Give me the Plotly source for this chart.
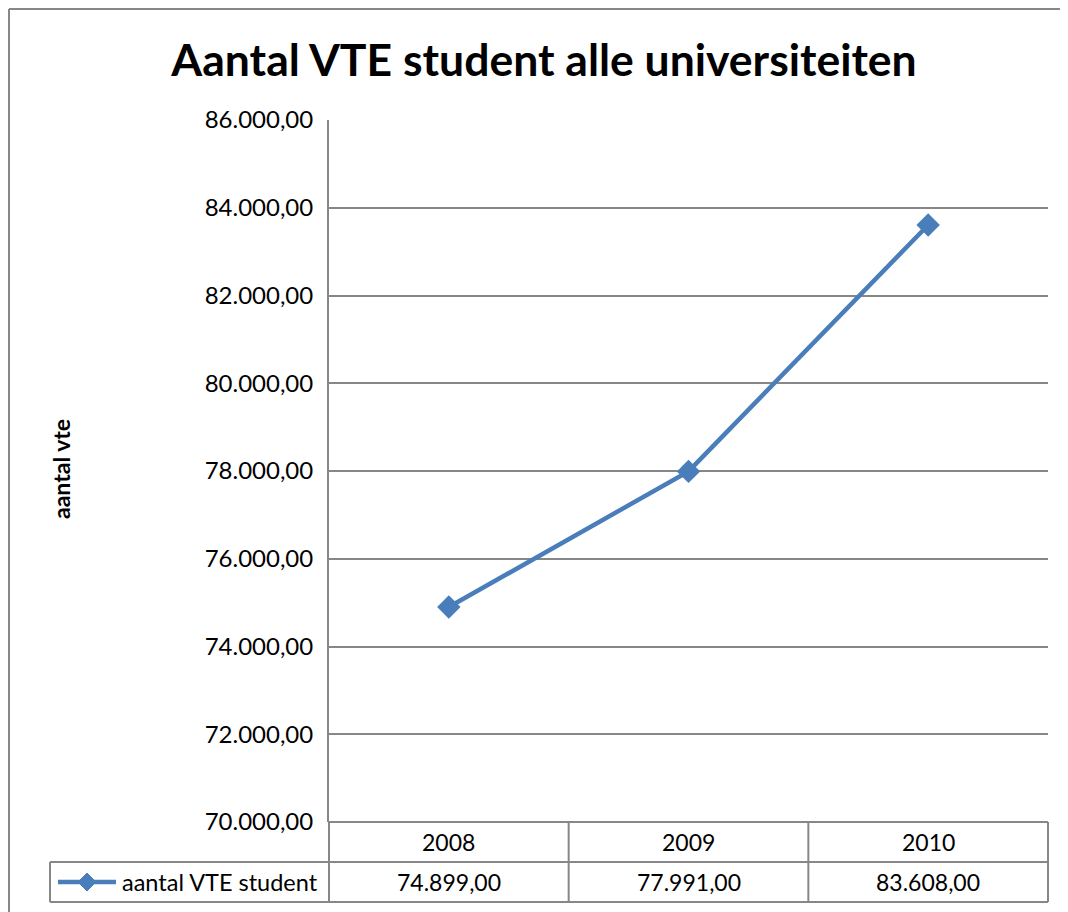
import plotly.graph_objects as go

years = [2008, 2009, 2010]
vte = [74899.00, 77991.00, 83608.00]
series_name = 'aantal VTE student'
y_ticks = list(range(70000, 86001, 2000))

# page has an 8px body margin, so figure is a bit smaller than the window
OFF = 8
W, H = 1068, 912
L, R, T, B = 329, 1048, 120, 822   # plot area in window pixels
pw, ph = R - L, B - T

def px(x):
    return (x - L) / pw

def py(y):
    return (B - y) / ph

def fmt(v):
    return f'{v:,.2f}'.replace(',', ' ').replace('.', ',').replace(' ', '.')

grey = '#878787'
blue = '#4A7EBB'
font = 'Lato'

fig = go.Figure()
fig.add_trace(go.Scatter(x=years, y=vte, mode='lines+markers', name=series_name,
                         line=dict(color=blue, width=4.5),
                         marker=dict(symbol='diamond', size=18, color=blue)))

line = dict(color=grey, width=2)
shapes = []
# outer chart border (only top and left are inside the picture)
shapes.append(dict(type='line', xref='paper', yref='paper',
                   x0=px(OFF + 1), x1=px(W), y0=py(OFF + 1), y1=py(OFF + 1), line=line))
shapes.append(dict(type='line', xref='paper', yref='paper',
                   x0=px(OFF + 1), x1=px(OFF + 1), y0=py(OFF + 1), y1=py(H), line=line))
# data table
row1, row2, row3 = B, B + 40, B + 80
cols = [L, L + pw / 3, L + 2 * pw / 3, R]
for yy, x0 in [(row1, L), (row2, 50), (row3, 50)]:
    shapes.append(dict(type='line', xref='paper', yref='paper',
                       x0=px(x0), x1=px(R), y0=py(yy), y1=py(yy), line=line))
for c in cols:
    shapes.append(dict(type='line', xref='paper', yref='paper',
                       x0=px(c), x1=px(c), y0=py(row1), y1=py(row3), line=line))
shapes.append(dict(type='line', xref='paper', yref='paper',
                   x0=px(50), x1=px(50), y0=py(row2), y1=py(row3), line=line))
# legend key in the table
key_y = py(row2 + 20)
shapes.append(dict(type='line', xref='paper', yref='paper',
                   x0=px(58), x1=px(116), y0=key_y, y1=key_y,
                   line=dict(color=blue, width=4.5)))
shapes.append(dict(type='path', xref='paper', yref='paper',
                   xsizemode='pixel', ysizemode='pixel', xanchor=px(87), yanchor=key_y,
                   path='M -9 0 L 0 9 L 9 0 L 0 -9 Z',
                   fillcolor=blue, line=dict(color=blue, width=1)))

annotations = []
txt = dict(showarrow=False, xanchor='center', yanchor='middle')
for yr, v in zip(years, vte):
    annotations.append(dict(x=yr, xref='x', y=py(row1 + 20), yref='paper', text=str(yr),
                            font=dict(size=23, color='black', family=font), **txt))
    annotations.append(dict(x=yr, xref='x', y=py(row2 + 20), yref='paper', text=fmt(v),
                            font=dict(size=23, color='black', family=font), **txt))
annotations.append(dict(x=px(120), xref='paper', y=py(row2 + 20), yref='paper', text=series_name,
                        xanchor='left', yanchor='middle', showarrow=False,
                        font=dict(size=23.5, color='black', family=font)))
annotations.append(dict(x=px(61), xref='paper', y=py(469), yref='paper', text='<b>aantal vte</b>',
                        textangle=-90, font=dict(size=23, color='black', family=font), **txt))

fig.update_layout(
    width=W - OFF, height=H - OFF,
    margin=dict(l=L - OFF, r=W - R, t=T - OFF, b=H - B),
    paper_bgcolor='white', plot_bgcolor='white',
    separators=',.',
    showlegend=False,
    title=dict(text='<b>Aantal VTE student alle universiteiten</b>', x=px(544), xref='paper',
               xanchor='center', y=1 - (60 - OFF) / (H - OFF), yref='container', yanchor='middle',
               font=dict(size=44.5, color='black', family=font)),
    xaxis=dict(range=[2007.5, 2010.5], showticklabels=False, showgrid=False, zeroline=False,
               showline=False, ticks=''),
    yaxis=dict(range=[70000, 86000], tickvals=y_ticks, tickformat=',.2f',
               showgrid=True, gridcolor=grey, gridwidth=2, zeroline=False,
               showline=True, linecolor=grey, linewidth=2, ticks='',
               ticklabelstandoff=9,
               tickfont=dict(size=24, color='black', family=font)),
    shapes=shapes, annotations=annotations,
)

fig.write_html('out.html')
